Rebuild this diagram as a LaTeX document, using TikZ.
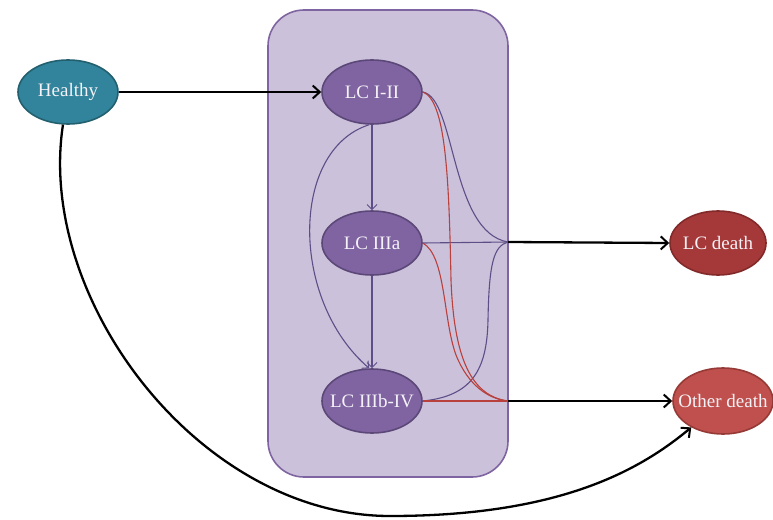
\documentclass[tikz,border=0pt]{standalone}
\usepackage{fontspec}
\setmainfont{Liberation Serif}
\usetikzlibrary{shapes.geometric,arrows.meta}

\definecolor{boxfill}{HTML}{CCC1DA}
\definecolor{boxline}{HTML}{7E64A0}
\definecolor{lcfill}{HTML}{8064A2}
\definecolor{lcline}{HTML}{5C4878}
\definecolor{healthfill}{HTML}{31849B}
\definecolor{healthline}{HTML}{23606F}
\definecolor{lcdfill}{HTML}{A5393A}
\definecolor{lcdline}{HTML}{822A2A}
\definecolor{odfill}{HTML}{C0504D}
\definecolor{odline}{HTML}{963A37}
\definecolor{flowpurple}{HTML}{5E4E88}
\definecolor{flowred}{HTML}{B8403D}
\definecolor{txt}{HTML}{F4F2F7}

% labels are set in a zero-width box so every ellipse keeps its fixed size
\newcommand{\statelabel}[1]{\makebox[0pt]{#1}}

\tikzset{
  state/.style={ellipse, draw, line width=1.6pt, minimum width=100pt,
    minimum height=64pt, inner sep=0pt, text=txt,
    font=\fontsize{19}{21}\selectfont},
  bigflow/.style={line width=2.3pt, black,
    -{Straight Barb[length=7pt,width=13pt,line width=2pt]}},
  inflow/.style={line width=1.1pt, flowpurple,
    -{Straight Barb[length=5pt,width=10pt,line width=1pt]}},
  toLCd/.style={line width=1.1pt, flowpurple},
  toOd/.style={line width=1.1pt, flowred},
}

\begin{document}
\begin{tikzpicture}[x=1pt,y=-1pt]
\useasboundingbox (0,0) rectangle (773,519);

% stage container
\draw[boxline, fill=boxfill, line width=1.6pt, rounded corners=36pt]
  (268,10) rectangle (508,477);

% states
\node[state, fill=healthfill, draw=healthline] (H)  at (68,92)  {\statelabel{Healthy}};
\node[state, fill=lcfill, draw=lcline]         (L1) at (372,92) {\statelabel{LC I-II}};
\node[state, fill=lcfill, draw=lcline]         (L2) at (372,243) {\statelabel{LC IIIa}};
\node[state, fill=lcfill, draw=lcline]         (L3) at (372,401) {\statelabel{LC IIIb-IV}};
\node[state, fill=lcdfill, draw=lcdline, minimum width=96pt] (LD) at (718,243) {\statelabel{LC death}};
\node[state, fill=odfill, draw=odline, minimum width=100pt, minimum height=66pt] (OD) at (723,401) {\statelabel{Other death}};

% merge points on the container edge
\coordinate (jd) at (508,242);
\coordinate (jo) at (508,401);

% progression between stages
\draw[inflow] (L1.south) -- (L2.north);
\draw[inflow] (L2.south) -- (L3.north);
\draw[inflow] (L1.265) .. controls (290,150) and (290,300) .. (L3.95);

% flows towards lung-cancer death
\draw[toLCd] (L1.east) .. controls (456,98) and (450,232) .. (jd);
\draw[toLCd] (L2.east) -- (jd);
\draw[toLCd] (L3.east) .. controls (472,396) and (487,370) .. (488,320)
                       .. controls (489,262) and (494,246) .. (jd);

% flows towards other-cause death
\draw[toOd] (L1.east) .. controls (446,100) and (449,180) .. (451,280)
                      .. controls (454,360) and (472,396) .. (jo);
\draw[toOd] (L2.east) .. controls (446,256) and (443,320) .. (456,355)
                      .. controls (468,385) and (488,399) .. (jo);
\draw[toOd] (L3.east) -- (jo);

% main transitions
\draw[bigflow] (H.east) -- (L1.west);
\draw[bigflow] (jd) -- (LD.west);
\draw[bigflow] (jo) -- (OD.west);
\draw[bigflow] (H) .. controls (36,300) and (200,516) .. (390,516)
                   .. controls (560,516) and (640,470) .. (OD);
\end{tikzpicture}
\end{document}
